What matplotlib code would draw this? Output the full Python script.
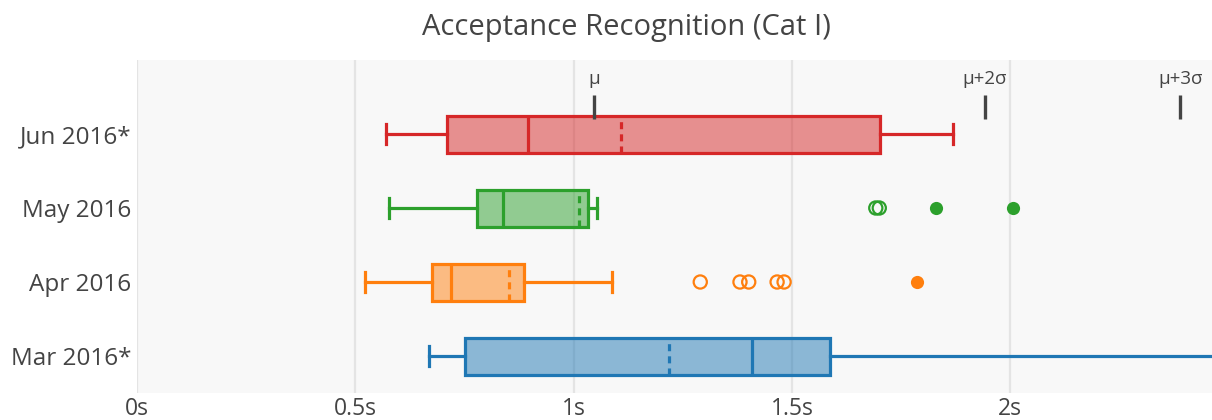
import matplotlib
matplotlib.use("Agg")
import matplotlib.pyplot as plt

plt.rcParams['font.family'] = ['Open Sans', 'DejaVu Sans']

# monthly response-time distributions (seconds), bottom to top
months = ['Mar 2016*', 'Apr 2016', 'May 2016', 'Jun 2016*']
colors = ['#1f77b4', '#ff7f0e', '#2ca02c', '#d62728']
whislo = [0.668, 0.522, 0.578, 0.570]
q1 = [0.752, 0.675, 0.779, 0.710]
median = [1.409, 0.719, 0.838, 0.896]
mean = [1.219, 0.852, 1.012, 1.109]
q3 = [1.587, 0.886, 1.033, 1.702]
whishi = [2.60, 1.089, 1.053, 1.869]

# outliers: open = outliers, filled = suspected outliers
open_pts = [[], [1.290, 1.381, 1.401, 1.466, 1.482], [1.692, 1.700], []]
filled_pts = [[], [1.786], [1.830, 2.006], []]

# reference markers above the latest month
ref_x = [1.047, 1.942, 2.389]
ref_labels = ['μ', 'μ+2σ', 'μ+3σ']

fig = plt.figure(figsize=(12.12, 4.2), dpi=100)
ax = fig.add_axes([137 / 1212, 27 / 420, 1 - 137 / 1212, 333 / 420])
ax.set_facecolor('#f8f8f8')

stats = []
for i in range(len(months)):
    stats.append(dict(whislo=whislo[i], q1=q1[i], med=median[i], mean=mean[i],
                      q3=q3[i], whishi=whishi[i], fliers=[]))

for i, st in enumerate(stats):
    c = colors[i]
    ax.bxp([st], positions=[i], widths=0.5, vert=False, patch_artist=True,
           showmeans=True, meanline=True, showfliers=False,
           boxprops=dict(facecolor=matplotlib.colors.to_rgba(c, 0.5), edgecolor=c, linewidth=2.3),
           medianprops=dict(color=c, linewidth=2.3),
           meanprops=dict(color=c, linewidth=2.3, linestyle=(0, (2.2, 1.6))),
           whiskerprops=dict(color=c, linewidth=2.3),
           capprops=dict(color=c, linewidth=2.3),
           capwidths=0.27)
    if open_pts[i]:
        ax.scatter(open_pts[i], [i] * len(open_pts[i]), s=90, facecolors='none',
                   edgecolors=c, linewidths=1.6, zorder=3)
    if filled_pts[i]:
        ax.scatter(filled_pts[i], [i] * len(filled_pts[i]), s=90, color=c,
                   linewidths=0, zorder=3)

for x, lab in zip(ref_x, ref_labels):
    ax.plot([x, x], [3.2, 3.53], color='#444444', linewidth=2.4, solid_capstyle='butt', zorder=4)
    ax.text(x, 3.74, lab, ha='center', va='center', fontsize=13.5, color='#444444')

ax.set_xlim(0, 2.462)
ax.set_ylim(-0.5, 4.0)
ax.set_xticks([0, 0.5, 1, 1.5, 2])
ax.set_xticklabels(['0s', '0.5s', '1s', '1.5s', '2s'])
ax.set_yticks(range(len(months)))
ax.set_yticklabels(months)
ax.tick_params(axis='y', length=0, labelsize=17.5, labelcolor='#444444', pad=4)
ax.tick_params(axis='x', length=0, labelsize=16.5, labelcolor='#444444', pad=3)
ax.grid(axis='x', color='#e4e4e4', linewidth=1.6)
ax.set_axisbelow(True)
for s in ax.spines.values():
    s.set_visible(False)

fig.text(626 / 1212, 1 - 27 / 420, 'Acceptance Recognition (Cat I)', ha='center', va='center',
         fontsize=21, color='#444444')

fig.savefig('out.png', dpi=100)
